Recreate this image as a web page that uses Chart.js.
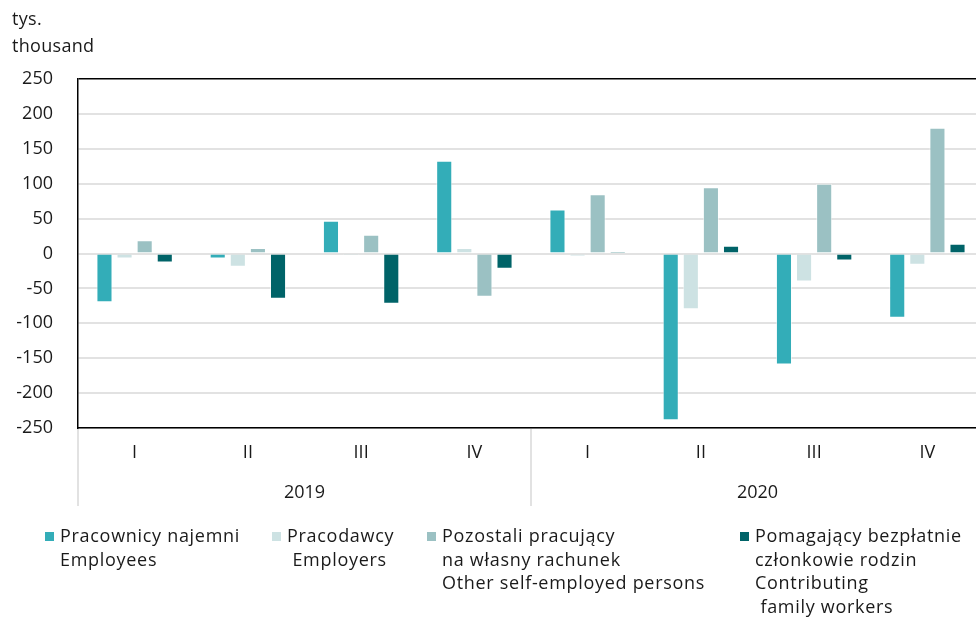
<!DOCTYPE html>
<html>
<head>
<meta charset="utf-8">
<script src="https://cdn.jsdelivr.net/npm/chart.js@4/dist/chart.umd.min.js"></script>
<style>
  html,body{margin:0;padding:0;background:#fff;overflow:hidden;width:976px;height:619px;}
  #wrap{position:relative;width:976px;height:619px;overflow:hidden;}
  canvas{position:absolute;left:0;top:0;}
  .unit{position:absolute;left:12px;top:5px;font:18px "Open Sans",sans-serif;letter-spacing:0.3px;color:#1a1a1a;line-height:27px;}
  .leg{position:absolute;top:524px;font:18px "Open Sans",sans-serif;letter-spacing:0.7px;color:#1a1a1a;line-height:23.7px;white-space:pre;}
  .leg .sw{position:absolute;left:-15px;top:8px;width:9px;height:9px;}
</style>
</head>
<body>
<div id="wrap">
  <canvas id="c" width="984" height="619"></canvas>
  <div class="unit">tys.<br>thousand</div>
  <div id="legend"></div>
</div>
<script>
const quarters = ['I','II','III','IV','I','II','III','IV'];
const years = ['2019','2020'];
const quartersPerYear = 4;

const employees    = [-70, -7, 47, 133, 63, -239, -159, -92];
const employers    = [-7, -19, -3, 8, -4, -80, -40, -16];
const selfEmployed = [19, 8, 27, -62, 85, 95, 100, 180];
const family       = [-13, -65, -72, -22, 3, 11, -10, 14];

const seriesLabels = [
  ['Pracownicy najemni', 'Employees'],
  ['Pracodawcy', ' Employers'],
  ['Pozostali pracujący', 'na własny rachunek', 'Other self-employed persons'],
  ['Pomagający bezpłatnie', 'członkowie rodzin', 'Contributing', ' family workers']
];
const seriesColors = ['#33adb8', '#cde2e3', '#9bc1c3', '#006368'];
const seriesData = [employees, employers, selfEmployed, family];
const legendX = [60, 287, 442, 755];

const FONT = '"Open Sans", sans-serif';
const TXT = '#1a1a1a';

const yearPlugin = {
  id: 'yearPlugin',
  afterDraw(chart) {
    const {ctx, chartArea, scales: {x}} = chart;
    const w = x.width / quarters.length;
    ctx.save();
    ctx.strokeStyle = '#d9d9d9';
    ctx.lineWidth = 1.5;
    years.forEach((yr, i) => {
      const first = i * quartersPerYear;
      const last = first + quartersPerYear - 1;
      const left = x.getPixelForValue(first) - w / 2;
      ctx.beginPath();
      ctx.moveTo(left, chartArea.bottom + 1);
      ctx.lineTo(left, 506);
      ctx.stroke();
      const cx = (x.getPixelForValue(first) + x.getPixelForValue(last)) / 2;
      ctx.fillStyle = TXT;
      ctx.font = '18px ' + FONT;
      ctx.textAlign = 'center';
      ctx.textBaseline = 'middle';
      ctx.fillText(yr, cx, 493);
    });
    ctx.restore();
  }
};

new Chart(document.getElementById('c'), {
  type: 'bar',
  data: {
    labels: quarters,
    datasets: seriesData.map((d, i) => ({
      label: seriesLabels[i].join(' '),
      data: d,
      backgroundColor: seriesColors[i],
      borderColor: 'rgba(255,255,255,0.55)',
      borderWidth: 1,
      barPercentage: 0.8,
      categoryPercentage: 0.71
    }))
  },
  options: {
    responsive: false,
    animation: false,
    layout: {padding: {top: 79, left: 0, right: 0, bottom: 0}},
    plugins: {legend: {display: false}, tooltip: {enabled: false}},
    scales: {
      x: {
        grid: {display: false, drawTicks: false},
        border: {color: '#000', width: 1.5},
        ticks: {padding: 14, color: TXT, font: {family: FONT, size: 18}},
        afterFit(s) { s.height = 619 - 428; }
      },
      y: {
        min: -250, max: 250,
        ticks: {stepSize: 50, padding: 25, color: TXT, font: {family: FONT, size: 18}},
        grid: {
          drawTicks: false,
          color: c => c.tick && c.tick.value === 250 ? '#000' : '#e2e2e2',
          lineWidth: c => c.tick && c.tick.value === 250 ? 1.5 : 2
        },
        border: {color: '#000', width: 1.5},
        afterFit(s) { s.width = 78; }
      }
    }
  },
  plugins: [yearPlugin]
});

const legend = document.getElementById('legend');
seriesLabels.forEach((lines, i) => {
  const d = document.createElement('div');
  d.className = 'leg';
  d.style.left = legendX[i] + 'px';
  const sw = document.createElement('span');
  sw.className = 'sw';
  sw.style.background = seriesColors[i];
  d.appendChild(sw);
  d.appendChild(document.createTextNode(lines.join('\n')));
  legend.appendChild(d);
});
</script>
</body>
</html>
